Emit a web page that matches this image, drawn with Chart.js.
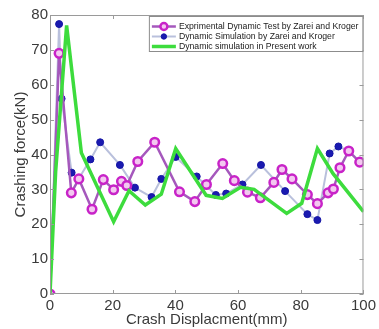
<!DOCTYPE html>
<html>
<head>
<meta charset="utf-8">
<script src="https://cdn.jsdelivr.net/npm/chart.js@4"></script>
<style>
  html, body { margin: 0; padding: 0; background: #fff; }
  #wrap { width: 379px; height: 329px; }
</style>
</head>
<body>
<div id="wrap"><canvas id="crash_chart" width="379" height="329"></canvas></div>
<script>
// Exprimental Dynamic Test by Zarei and Kroger
const expX = [0, 2.9, 6.8, 9.2, 13.4, 17, 20.3, 22.8, 24.5, 28, 33.4, 41.3, 46.2, 49.9, 55.1, 58.8, 63, 67.1, 71.4, 74, 77.2, 82.1, 85.3, 88.7, 90.4, 92.5, 95.3, 98.8];
const expY = [0, 69, 29, 33, 24.3, 32.8, 29.9, 32.3, 31.1, 38, 43.5, 29.3, 26.5, 31.4, 37.4, 32.5, 29.2, 27.6, 32, 35.7, 33, 28.5, 25.9, 29, 30.1, 36.2, 41, 37.8];

// Dynamic Simulation by Zarei and Kroger
const simX = [0, 2.9, 3.7, 6.9, 9.1, 12.9, 16, 22.3, 27.1, 32.4, 35.5, 40.1, 46.8, 52.9, 56.2, 61.4, 67.3, 75, 82.1, 85.3, 89.2, 92, 95.2];
const simY = [0, 77.4, 56, 34.8, 33, 38.6, 43.5, 37, 30.5, 27.8, 33, 39.3, 33.7, 28.4, 28.8, 31.4, 37, 29.5, 22.9, 21.2, 40.3, 42.3, 41.1];

// Dynamic simulation in Present work
const presX = [0, 1.8, 5.3, 10, 20.3, 25.2, 30.4, 35.5, 40.1, 49.8, 55, 60.8, 65.1, 75.5, 80.3, 85.3, 90.3, 100];
const presY = [0, 35, 77, 40.5, 20.7, 29.6, 25.5, 28.6, 41.7, 28.3, 27.4, 30.6, 30, 23.1, 26, 41.7, 34.5, 23.6];

const xTicks = [0, 20, 40, 60, 80, 100];
const yTicks = [0, 10, 20, 30, 40, 50, 60, 70, 80];

const FONT = 'Liberation Sans, Arial, sans-serif';

function toPoints(xs, ys) {
    return xs.map((x, i) => ({ x: x, y: ys[i] }));
}

const datasets = [
    {
        label: 'Exprimental Dynamic Test by Zarei and Kroger',
        data: toPoints(expX, expY),
        borderColor: '#a558bc',
        borderWidth: 2.5,
        pointRadius: 4.3,
        pointBorderWidth: 2.5,
        pointBorderColor: '#c823c8',
        pointBackgroundColor: '#f3c8f0',
        order: 1,
    },
    {
        label: 'Dynamic Simulation by Zarei and Kroger',
        data: toPoints(simX, simY),
        borderColor: '#b9c0dc',
        borderWidth: 2,
        pointRadius: 3.5,
        pointBorderWidth: 1,
        pointBorderColor: '#1515a5',
        pointBackgroundColor: '#1a1ab0',
        order: 2,
    },
    {
        label: 'Dynamic simulation in Present work',
        data: toPoints(presX, presY),
        borderColor: '#3ddc3d',
        borderWidth: 3.5,
        pointRadius: 0,
        order: 0,
    },
];

// box around plot, inward tick marks and the legend box
const framePlugin = {
    id: 'frame',
    afterDraw(chart) {
        const ctx = chart.ctx;
        const a = chart.chartArea;
        const xs = chart.scales.x;
        const ys = chart.scales.y;
        ctx.save();
        ctx.strokeStyle = '#9a9a9a';
        ctx.lineWidth = 1;
        ctx.strokeRect(a.left + 0.5, a.top + 0.5, a.right - a.left - 1, a.bottom - a.top - 1);
        ctx.beginPath();
        xTicks.forEach(v => {
            const px = Math.round(xs.getPixelForValue(v)) + 0.5;
            ctx.moveTo(px, a.bottom); ctx.lineTo(px, a.bottom - 4);
            ctx.moveTo(px, a.top); ctx.lineTo(px, a.top + 4);
        });
        yTicks.forEach(v => {
            const py = Math.round(ys.getPixelForValue(v)) + 0.5;
            ctx.moveTo(a.left, py); ctx.lineTo(a.left + 4, py);
            ctx.moveTo(a.right, py); ctx.lineTo(a.right - 4, py);
        });
        ctx.stroke();

        // legend
        ctx.font = '8.7px ' + FONT;
        const widths = datasets.map(d => ctx.measureText(d.label).width);
        const boxW = 30 + Math.max(...widths) + 4;
        const boxH = 35;
        const bx = a.right - boxW - 1;
        const by = a.top + 1;
        ctx.fillStyle = '#fff';
        ctx.fillRect(bx, by, boxW, boxH);
        ctx.strokeStyle = '#8c8c8c';
        ctx.strokeRect(bx + 0.5, by + 0.5, boxW, boxH);
        datasets.forEach((d, i) => {
            const ly = by + 10.5 + i * 10;
            ctx.beginPath();
            ctx.strokeStyle = d.borderColor;
            ctx.lineWidth = d.borderWidth;
            ctx.moveTo(bx + 3, ly);
            ctx.lineTo(bx + 27, ly);
            ctx.stroke();
            if (d.pointRadius > 0) {
                ctx.beginPath();
                ctx.arc(bx + 15, ly, d.pointRadius - 0.8, 0, Math.PI * 2);
                ctx.fillStyle = d.pointBackgroundColor;
                ctx.fill();
                ctx.lineWidth = d.pointBorderWidth;
                ctx.strokeStyle = d.pointBorderColor;
                ctx.stroke();
            }
            ctx.fillStyle = '#1a1a1a';
            ctx.textBaseline = 'middle';
            ctx.fillText(d.label, bx + 30, ly + 0.5);
        });
        ctx.restore();
    }
};

const crash_stat = {
    type: 'line',
    data: { datasets: datasets },
    options: {
        responsive: false,
        animation: false,
        layout: { padding: { left: 0, top: 15, right: 11, bottom: 0 } },
        plugins: {
            legend: { display: false },
            tooltip: { enabled: false },
        },
        elements: { line: { tension: 0 } },
        scales: {
            x: {
                type: 'linear',
                min: 0,
                max: 100,
                afterBuildTicks: scale => { scale.ticks = xTicks.map(v => ({ value: v })); },
                afterFit: scale => { scale.height = 35; },
                grid: { display: false, drawTicks: false, tickLength: 0 },
                border: { display: false },
                ticks: { padding: 3, color: '#3a3a3a', font: { family: FONT, size: 15 } },
                title: {
                    display: true,
                    text: 'Crash Displacment(mm)',
                    color: '#3a3a3a',
                    padding: { top: 0, bottom: 0 },
                    font: { family: FONT, size: 15 },
                },
            },
            y: {
                type: 'linear',
                min: 0,
                max: 80,
                afterBuildTicks: scale => { scale.ticks = yTicks.map(v => ({ value: v })); },
                afterFit: scale => { scale.width = 50; },
                grid: { display: false, drawTicks: false, tickLength: 0 },
                border: { display: false },
                ticks: { padding: 2, color: '#3a3a3a', font: { family: FONT, size: 15 } },
                title: {
                    display: true,
                    text: 'Crashing force(kN)',
                    color: '#3a3a3a',
                    padding: { top: 12, bottom: 0 },
                    font: { family: FONT, size: 15 },
                },
            },
        },
    },
    plugins: [framePlugin],
};

const crash_canvas = document.getElementById('crash_chart').getContext('2d');
window.chart = new Chart(crash_canvas, crash_stat);
</script>
</body>
</html>
